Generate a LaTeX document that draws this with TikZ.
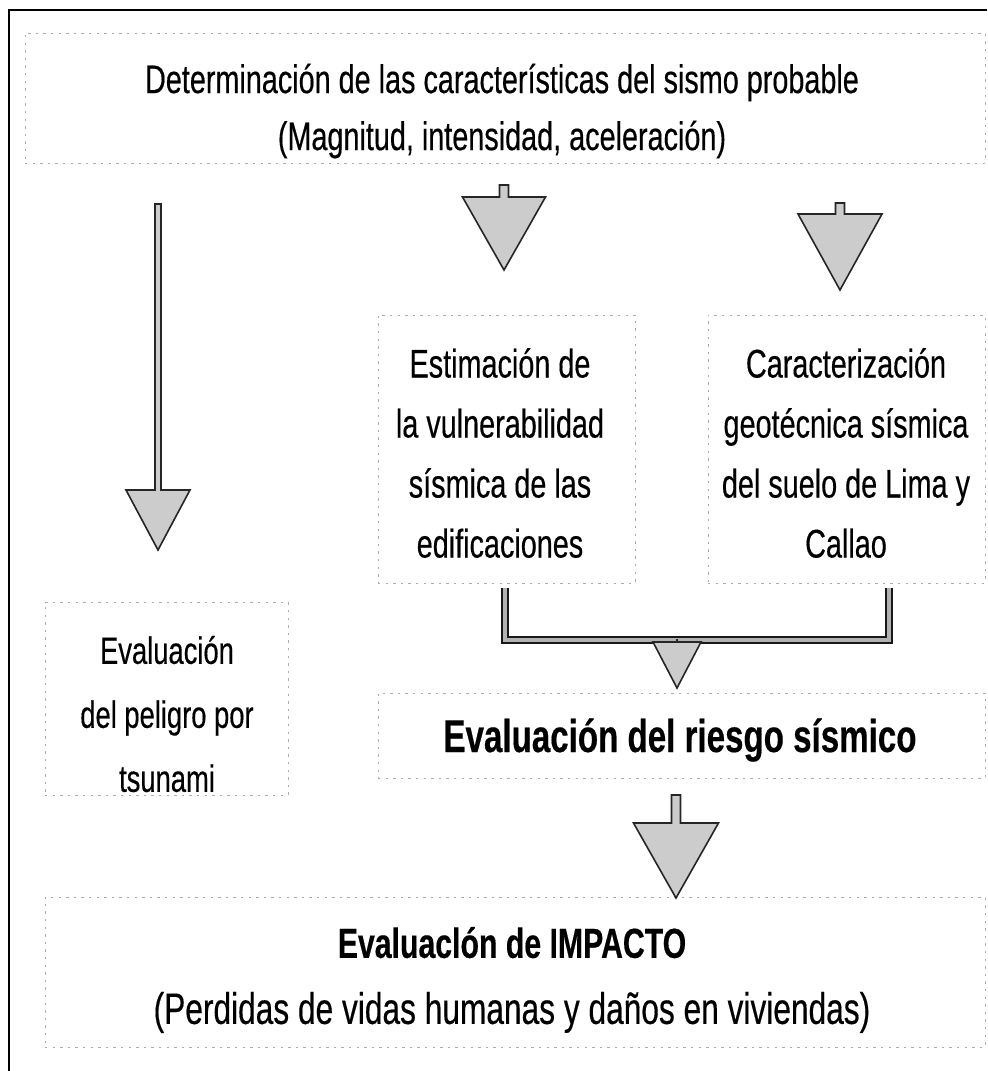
\documentclass[tikz,border=0pt]{standalone}
\usepackage{fontspec}
\setmainfont{Liberation Sans}[FakeStretch=0.72,FakeBold=0.35]
\usetikzlibrary{calc,fit}
\tikzset{
  dbox/.style={draw=gray!65, dash pattern=on 1.2pt off 2.6pt, line width=0.5pt, inner sep=0pt, rectangle},
  txt/.style={align=center, inner sep=0pt, text=black},
  blk/.style={draw=black!85, line width=0.8pt, fill=gray!40, line join=miter},
  brk/.style={draw=black!90, line width=0.8pt, double=gray!60, double distance=2pt},
  framel/.style={line width=1pt, draw=black}
}
\newcommand{\blkarrow}[5]{%
  \draw[blk] ($(#1)+(-#3,0)$) -- ($(#1)+(#3,0)$) -- ($(#2)+(#3,-#5)$) -- ($(#2)+(#4,-#5)$) -- (#2) -- ($(#2)+(-#4,-#5)$) -- ($(#2)+(-#3,-#5)$) -- cycle;}
\begin{document}
\begin{tikzpicture}[x=0.5pt,y=-0.5pt]
\useasboundingbox (0,0) rectangle (987,1071);
% frame
\draw[framel] (9,1071) -- (9,10) -- (987,10);
% boxes
\node[dbox, fit={(25,33) (985,163)}] (T) {};
\node[dbox, fit={(378,315) (635,583)}] (E) {};
\node[dbox, fit={(708,315) (985,583)}] (C) {};
\node[dbox, fit={(378,693) (985,778)}] (R) {};
\node[dbox, fit={(45,602) (288,795)}] (S) {};
\node[dbox, fit={(45,897) (985,1047)}] (I) {};
% texts
\node[txt, font=\fontsize{20pt}{28.5pt}\selectfont] (Tt) at (502,111)
  {Determinación de las características del sismo probable\\(Magnitud, intensidad, aceleración)};
\node[txt, font=\fontsize{20pt}{30pt}\selectfont] (Et) at (500,453)
  {Estimación de\\la vulnerabilidad\\sísmica de las\\edificaciones};
\node[txt, font=\fontsize{20pt}{30pt}\selectfont] (Ct) at (846,453)
  {Caracterización\\geotécnica sísmica\\del suelo de Lima y\\Callao};
\node[txt, font=\fontsize{23pt}{27pt}\selectfont\bfseries] (Rt) at (680,740)
  {Evaluación del riesgo sísmico};
\node[txt, font=\fontsize{19pt}{32pt}\selectfont] (St) at (167,714)
  {Evaluación\\del peligro por\\tsunami};
\node[txt, font=\fontsize{22pt}{33pt}\selectfont] (It) at (512,980)
  {{\fontsize{21pt}{33pt}\selectfont\bfseries Evaluaclón de IMPACTO}\\(Perdidas de vidas humanas y daños en viviendas)};
% arrow end points
\coordinate (a1s) at (158,204); \coordinate (a1e) at (158,550);
\coordinate (a2s) at (504,185); \coordinate (a2e) at (504,270);
\coordinate (a3s) at (840,203); \coordinate (a3e) at (840,290);
\coordinate (a4s) at (677,640); \coordinate (a4e) at (677,688);
\coordinate (a5s) at (676,795); \coordinate (a5e) at (676,898);
\coordinate (bl) at (505,588); \coordinate (br) at (889,588);
% bracket
\draw[brk] (bl) |- (a4s) -| (br);
% block arrows
\blkarrow{a1s}{a1e}{3}{32}{60}
\blkarrow{a2s}{a2e}{4.5}{41.5}{73}
\blkarrow{a3s}{a3e}{4.5}{42}{76}
\blkarrow{a4s}{a4e}{0.01}{24}{46}
\blkarrow{a5s}{a5e}{4.5}{42.5}{75}
\end{tikzpicture}
\end{document}
